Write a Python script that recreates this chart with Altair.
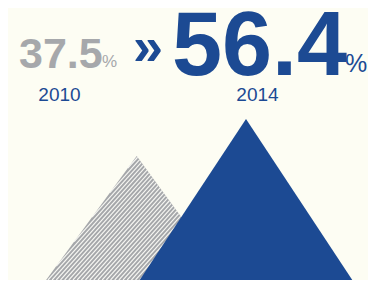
import math
import altair as alt
import pandas as pd

# ---- data ----
years = ["2010", "2014"]
shares = [37.5, 56.4]          # percent
pct_sign = "%"
arrow_glyph = "»"

# ---- layout / style constants ----
W, H = 360, 272
PX_PER_UNIT = 1.958
Y_MAX = 113.07                  # value at the top edge of the plot
Y_MIN = Y_MAX - H / PX_PER_UNIT # value at the bottom edge
BASE = Y_MIN                    # mountains stand on the bottom edge
centers = [128.7, 238.0]        # x centres (plot px units)
slopes = [0.73, 0.66]           # half width per unit of height (px/px)
HATCH_ANGLE = 48                # degrees, stripes rising to the right
HATCH_STEP = 3.1                # px between stripes (perpendicular)

BLUE = "#1c4a93"
GREY = "#a6a8ab"
STRIPE_GREY = "#a5a7aa"
STRIPE_LIGHT = "#f7f7f3"
BG = "#fdfdf3"
FONT = "Liberation Sans"


def mountain(i):
    c = centers[i]
    hw = slopes[i] * (shares[i] - BASE) * PX_PER_UNIT
    return pd.DataFrame({
        "x": [c - hw, c, c + hw],
        "y": [BASE, shares[i], BASE],
        "base": [BASE] * 3,
        "year": [years[i]] * 3,
    })


def to_px(v):
    return (Y_MAX - v) * PX_PER_UNIT


def to_val(py):
    return Y_MAX - py / PX_PER_UNIT


def hatch_lines(df):
    poly = [(x, to_px(y)) for x, y in zip(df["x"], df["y"])]
    th = math.radians(HATCH_ANGLE)
    n = (math.sin(th), math.cos(th))
    proj = [n[0] * x + n[1] * y for x, y in poly]
    rows = []
    c = min(proj) + HATCH_STEP / 2
    while c < max(proj):
        pts = []
        for k in range(3):
            p0, p1 = poly[k], poly[(k + 1) % 3]
            d0 = n[0] * p0[0] + n[1] * p0[1] - c
            d1 = n[0] * p1[0] + n[1] * p1[1] - c
            if d0 * d1 <= 0 and d0 != d1:
                t = d0 / (d0 - d1)
                pts.append((p0[0] + t * (p1[0] - p0[0]), p0[1] + t * (p1[1] - p0[1])))
        if len(pts) >= 2:
            pts.sort()
            (xa, ya), (xb, yb) = pts[0], pts[-1]
            rows.append({"x": xa, "y": to_val(ya), "x2": xb, "y2": to_val(yb)})
        c += HATCH_STEP
    return pd.DataFrame(rows)


xs = alt.Scale(domain=[0, W], nice=False, zero=False)
ys = alt.Scale(domain=[Y_MIN, Y_MAX], nice=False, zero=False)

g = mountain(0)

grey_m = alt.Chart(g).mark_area(color=STRIPE_GREY, strokeWidth=0, interpolate="linear").encode(
    x=alt.X("x:Q", scale=xs, axis=None),
    y=alt.Y("y:Q", scale=ys, axis=None),
    y2="base:Q",
)
stripes = alt.Chart(hatch_lines(g)).mark_rule(color=STRIPE_LIGHT, strokeWidth=1.15).encode(
    x=alt.X("x:Q", scale=xs, axis=None),
    y=alt.Y("y:Q", scale=ys, axis=None),
    x2="x2:Q",
    y2="y2:Q",
)
blue_m = alt.Chart(mountain(1)).mark_area(color=BLUE, strokeWidth=0, interpolate="linear").encode(
    x=alt.X("x:Q", scale=xs, axis=None),
    y=alt.Y("y:Q", scale=ys, axis=None),
    y2="base:Q",
)


def txt(s, x, y, size, color, weight="normal", align="left"):
    return alt.Chart(pd.DataFrame({"t": [s]})).mark_text(
        align=align, baseline="alphabetic", font=FONT, fontSize=size,
        fontWeight=weight, color=color,
    ).encode(x=alt.value(x), y=alt.value(y), text="t:N")


layers = [
    grey_m,
    stripes,
    blue_m,
    txt(f"{shares[0]}", 11, 60, 43, GREY, "bold"),
    txt(pct_sign, 94, 59, 17, GREY),
    txt(arrow_glyph, 125, 57, 54, BLUE, "bold"),
    txt(f"{shares[1]}", 164, 67, 90, BLUE, "bold"),
    txt(pct_sign, 337, 64, 25, BLUE),
    txt(years[0], 51.5, 93, 19, BLUE, align="center"),
    txt(years[1], 249.5, 93, 19, BLUE, align="center"),
]

chart = alt.layer(*layers).properties(
    width=W, height=H, padding=0, autosize=alt.AutoSizeParams(type="none"),
    background=BG,
).configure_view(stroke=None)

chart.save("out.html", embed_options={"renderer": "svg", "actions": False})
